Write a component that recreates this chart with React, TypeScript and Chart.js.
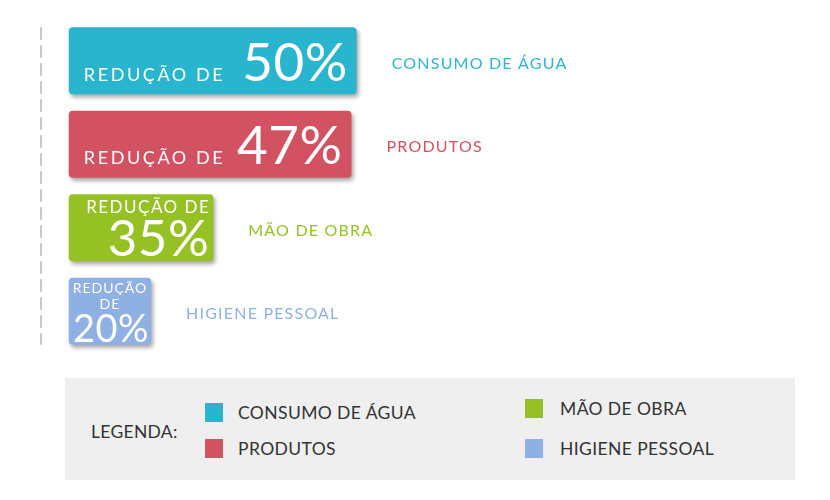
import { useEffect, useRef } from "react";
import { Chart, Plugin, registerables } from "chart.js";

Chart.register(...registerables);

const categories = ["CONSUMO DE ÁGUA", "PRODUTOS", "MÃO DE OBRA", "HIGIENE PESSOAL"];
// reduction shown inside each box (%)
const reductions = [50, 47, 35, 20];
// length of each box as drawn in the infographic (boxes are sized to their text, not to scale)
const boxLengths = [50, 49.1, 25.1, 14.3];
const colors = ["#2ab5cf", "#d35262", "#95c124", "#8eb0e2"];
const prefix = "REDUÇÃO DE";
const legendTitle = "LEGENDA:";

const FONT = "Lato, 'Open Sans', sans-serif";

// soft drop shadow under the boxes
const shadowPlugin: Plugin<"bar"> = {
  id: "boxShadow",
  beforeDatasetsDraw(chart) {
    const ctx = chart.ctx;
    ctx.save();
    ctx.shadowColor = "rgba(0,0,0,0.35)";
    ctx.shadowBlur = 4;
    ctx.shadowOffsetX = 2;
    ctx.shadowOffsetY = 3;
  },
  afterDatasetsDraw(chart) {
    chart.ctx.restore();
  },
};

// dashed baseline on the left, spanning the boxes
const baselinePlugin: Plugin<"bar"> = {
  id: "dashedBase",
  beforeDatasetsDraw(chart) {
    const { ctx, chartArea } = chart;
    const bars = chart.getDatasetMeta(0).data as any[];
    if (!bars.length) return;
    const first = bars[0].getProps(["y", "height"], true);
    const last = bars[bars.length - 1].getProps(["y", "height"], true);
    ctx.save();
    ctx.strokeStyle = "#c8c8c8";
    ctx.lineWidth = 2;
    ctx.setLineDash([12.5, 5.5]);
    ctx.beginPath();
    ctx.moveTo(chartArea.left + 1, first.y - first.height / 2);
    ctx.lineTo(chartArea.left + 1, last.y + last.height / 2);
    ctx.stroke();
    ctx.restore();
  },
};

// text inside the boxes + category label to the right
const textPlugin: Plugin<"bar"> = {
  id: "boxText",
  afterDraw(chart) {
    const { ctx } = chart;
    const meta = chart.getDatasetMeta(0);
    meta.data.forEach((el, i) => {
      const { x, y, base } = el.getProps(["x", "y", "base"], true) as any;
      const w = x - base;
      const pct = reductions[i] + "%";
      ctx.save();
      ctx.fillStyle = "#ffffff";
      ctx.textBaseline = "alphabetic";
      if (w > 250) {
        ctx.font = `400 18px ${FONT}`;
        (ctx as any).letterSpacing = "2.6px";
        ctx.textAlign = "left";
        ctx.fillText(prefix, base + 15, y + 20);
        ctx.font = `400 53px ${FONT}`;
        (ctx as any).letterSpacing = "0.5px";
        ctx.textAlign = "right";
        ctx.fillText(pct, x - 9, y + 20);
      } else if (w > 120) {
        ctx.font = `400 17px ${FONT}`;
        (ctx as any).letterSpacing = "1.5px";
        ctx.textAlign = "right";
        ctx.fillText(prefix, x - 3, y - 15);
        ctx.font = `400 51px ${FONT}`;
        (ctx as any).letterSpacing = "0.5px";
        ctx.fillText(pct, x - 4, y + 28);
      } else {
        const cx = (base + x) / 2;
        const [w1, w2] = prefix.split(" ");
        ctx.textAlign = "center";
        ctx.font = `400 14px ${FONT}`;
        (ctx as any).letterSpacing = "1px";
        ctx.fillText(w1, cx, y - 18);
        ctx.fillText(w2, cx, y - 2);
        ctx.font = `400 38px ${FONT}`;
        (ctx as any).letterSpacing = "0.5px";
        ctx.fillText(pct, cx + 1, y + 31);
      }
      ctx.fillStyle = colors[i];
      ctx.font = `400 16px ${FONT}`;
      (ctx as any).letterSpacing = "1.2px";
      ctx.textAlign = "left";
      ctx.textBaseline = "middle";
      ctx.fillText(categories[i], x + 35, y + 3);
      ctx.restore();
    });
  },
};

function BoxChart() {
  const canvasRef = useRef<HTMLCanvasElement>(null);
  const chartRef = useRef<Chart | null>(null);

  useEffect(() => {
    if (!canvasRef.current) return;
    if (chartRef.current) chartRef.current.destroy();

    chartRef.current = new Chart(canvasRef.current, {
      type: "bar",
      data: {
        labels: categories,
        datasets: [
          {
            data: boxLengths,
            backgroundColor: colors,
            borderRadius: 4,
            borderSkipped: false,
            barPercentage: 0.8,
            categoryPercentage: 1,
          },
        ],
      },
      options: {
        indexAxis: "y",
        responsive: true,
        maintainAspectRatio: false,
        animation: false,
        layout: { padding: { left: 40, right: 30, top: 19, bottom: 17 } },
        plugins: {
          legend: { display: false },
          tooltip: { enabled: false },
        },
        scales: {
          x: { display: false, min: -5, max: 127 },
          y: { display: false },
        },
      },
      plugins: [baselinePlugin, shadowPlugin, textPlugin],
    });

    return () => {
      if (chartRef.current) {
        chartRef.current.destroy();
        chartRef.current = null;
      }
    };
  }, []);

  return (
    <div style={{ position: "relative", width: 830, height: 370 }}>
      <canvas ref={canvasRef} />
    </div>
  );
}

function Legend() {
  return (
    <div
      style={{
        position: "absolute",
        left: 65,
        top: 378,
        width: 730,
        height: 102,
        background: "#efefef",
        fontFamily: FONT,
        fontSize: 17.5,
        color: "#333",
      }}
    >
      <div style={{ position: "absolute", left: 26, top: 44, lineHeight: "20px", letterSpacing: 0.3 }}>
        {legendTitle}
      </div>
      {categories.map((c, i) => {
        const col = Math.floor(i / 2);
        const row = i % 2;
        return (
          <div
            key={c}
            style={{
              position: "absolute",
              left: col === 0 ? 140 : 460,
              top: row === 0 ? (col === 0 ? 24 : 20) : 60,
              display: "flex",
              alignItems: "center",
              height: 20,
            }}
          >
            <span style={{ width: 18, height: 19, background: colors[i], display: "inline-block" }} />
            <span style={{ marginLeft: col === 0 ? 15 : 17, letterSpacing: 0.4 }}>{c}</span>
          </div>
        );
      })}
    </div>
  );
}

export default function App() {
  return (
    <div style={{ position: "fixed", left: 0, top: 0, width: 830, height: 500, background: "#fff" }}>
      <BoxChart />
      <Legend />
    </div>
  );
}
